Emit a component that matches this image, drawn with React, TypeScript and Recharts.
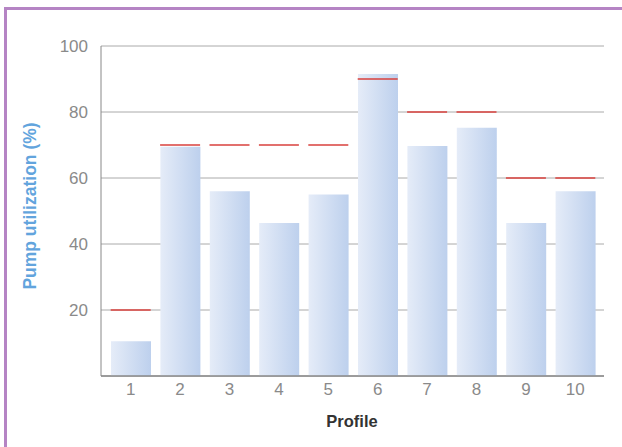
import React from 'react';
import { ComposedChart, Bar, Scatter, XAxis, YAxis, CartesianGrid } from 'recharts';

const profiles = ['1', '2', '3', '4', '5', '6', '7', '8', '9', '10'];
const utilization = [10.5, 69.5, 56, 46.4, 55, 91.5, 69.7, 75.2, 46.4, 56];
const targets = [20, 70, 70, 70, 70, 90, 80, 80, 60, 60];
const yTicks = [20, 40, 60, 80, 100];

const data = profiles.map((p, i) => ({ profile: p, value: utilization[i], target: targets[i] }));

const TargetLine = (props: any) => {
  const { cx, cy } = props;
  if (cx == null || cy == null) return null;
  return <line x1={cx - 20} x2={cx + 20} y1={cy} y2={cy} stroke="#d8413d" strokeWidth={1.6} />;
};

const tickFont = { fontFamily: 'Liberation Sans, Arial, sans-serif', fontSize: 17, fill: '#8a8a8a' };

export default function App() {
  return (
    <div style={{ position: 'absolute', left: 0, top: 0, width: 622, height: 447, background: '#fff', overflow: 'hidden' }}>
      <div style={{ position: 'absolute', left: 4, top: 7, width: 700, height: 500, borderTop: '3px solid #b584c4', borderLeft: '3px solid #b584c4' }} />
      <div style={{ position: 'absolute', left: 0, top: 0 }}>
        <ComposedChart width={622} height={447} data={data} margin={{ top: 46, right: 18, left: 0, bottom: 41 }}>
          <defs>
            <linearGradient id="barGrad" x1="0" y1="0" x2="1" y2="0">
              <stop offset="0%" stopColor="#e5ecf8" />
              <stop offset="100%" stopColor="#bdd0ed" />
            </linearGradient>
          </defs>
          <CartesianGrid vertical={false} stroke="#aaaaaa" strokeWidth={1} />
          <XAxis
            dataKey="profile"
            height={30}
            padding={{ left: 5, right: 4 }}
            tickLine={false}
            axisLine={{ stroke: '#888888', strokeWidth: 1.5 }}
            tick={tickFont}
            tickMargin={1}
            interval={0}
          />
          <YAxis
            width={101}
            domain={[0, 100]}
            ticks={yTicks}
            tickLine={false}
            axisLine={{ stroke: '#888888', strokeWidth: 1 }}
            tick={tickFont}
            tickMargin={7}
          />
          <Bar dataKey="value" fill="url(#barGrad)" barSize={40} isAnimationActive={false} />
          <Scatter dataKey="target" shape={<TargetLine />} isAnimationActive={false} />
        </ComposedChart>
      </div>
      <div style={{ position: 'absolute', left: 30, top: 206, transform: 'translate(-50%, -50%) rotate(-90deg)', whiteSpace: 'nowrap', fontFamily: 'Liberation Sans, Arial, sans-serif', fontSize: 17.5, fontWeight: 'bold', color: '#62a4dd' }}>
        Pump utilization (%)
      </div>
      <div style={{ position: 'absolute', left: 352, top: 421, transform: 'translate(-50%, -50%)', whiteSpace: 'nowrap', fontFamily: 'Liberation Sans, Arial, sans-serif', fontSize: 16.5, fontWeight: 'bold', color: '#333333' }}>
        Profile
      </div>
    </div>
  );
}
